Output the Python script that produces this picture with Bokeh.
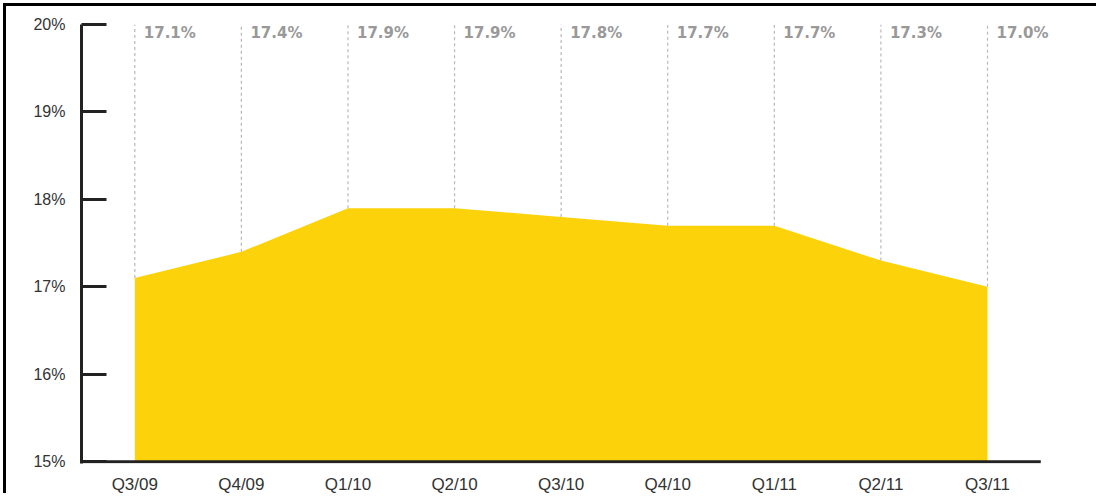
from bokeh.plotting import figure
from bokeh.models import Range1d, FixedTicker, PrintfTickFormatter, ColumnDataSource, LabelSet
from bokeh.core.properties import value
from bokeh.embed import file_html
from bokeh.resources import INLINE

quarters = ["Q3/09", "Q4/09", "Q1/10", "Q2/10", "Q3/10", "Q4/10", "Q1/11", "Q2/11", "Q3/11"]
rates = [17.1, 17.4, 17.9, 17.9, 17.8, 17.7, 17.7, 17.3, 17.0]
y_ticks = [15, 16, 17, 18, 19, 20]
y_min, y_max = 15, 20

xs = list(range(len(quarters)))
x_lo, x_hi = -0.5, len(quarters) - 0.5
src = ColumnDataSource(dict(
    x=xs,
    y=rates,
    base=[y_min] * len(rates),
    top=[y_max] * len(rates),
    label=["%.1f%%" % r for r in rates],
))

# frame extended a little to the right/bottom so the last value label is not clipped
p = figure(width=1093, height=490, x_range=Range1d(x_lo, x_hi + 0.26), y_range=Range1d(y_min - 0.02, y_max),
           output_backend="svg", toolbar_location=None,
           min_border_left=75, min_border_right=31, min_border_top=18, min_border_bottom=32,
           styles={"border-top": "3px solid #000", "border-left": "3px solid #000",
                   "margin-top": "3px", "margin-left": "3px"})
p.outline_line_color = None
p.grid.visible = False
p.background_fill_color = "white"

p.varea(x="x", y1="base", y2="y", source=src, fill_color="#FCD20A")
p.segment(x0="x", y0="y", x1="x", y1="top", source=src, line_color="#b8b8b8", line_width=1.2, line_dash="3 3")
# baseline (x axis line) spanning only the category band
p.segment(x0=[x_lo], y0=[y_min], x1=[x_hi], y1=[y_min], line_color="#222222", line_width=3)
p.add_layout(LabelSet(x="x", y="top", text="label", source=src, x_offset=9, y_offset=1,
                      text_baseline="top", text_align="left", text_color="#999999",
                      text_font=value("DejaVu Sans"), text_font_style="bold", text_font_size="15px"))

# y axis
ya = p.yaxis[0]
ya.ticker = FixedTicker(ticks=y_ticks)
ya.formatter = PrintfTickFormatter(format="%d%%")
ya.axis_line_width = 3
ya.axis_line_color = "#222222"
ya.major_tick_in = 25
ya.major_tick_out = 0
ya.major_tick_line_width = 3
ya.major_tick_line_color = "#222222"
ya.minor_tick_line_color = None
ya.major_label_standoff = 16
ya.major_label_text_font = "Liberation Sans"
ya.major_label_text_font_size = "16px"
ya.major_label_text_color = "#333333"

# x axis
xa = p.xaxis[0]
xa.ticker = FixedTicker(ticks=xs)
xa.major_label_overrides = {i: q for i, q in zip(xs, quarters)}
xa.axis_line_width = 3
xa.axis_line_color = None
xa.major_tick_line_color = None
xa.minor_tick_line_color = None
xa.major_label_standoff = 5
xa.major_label_text_font = "Liberation Sans"
xa.major_label_text_font_size = "17px"
xa.major_label_text_color = "#333333"

open("out.html", "w").write(file_html(p, INLINE))
